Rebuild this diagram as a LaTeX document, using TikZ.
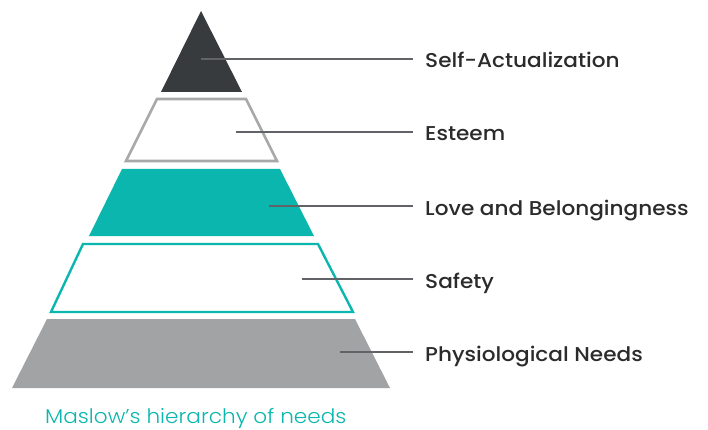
\documentclass[tikz,border=0pt]{standalone}
\usepackage{fontspec}
\newfontfamily\lblfont{Poppins Medium}[FakeStretch=1.08]
\newfontfamily\capfont{Poppins Light}[FakeStretch=1.08]
\definecolor{darkgrey}{HTML}{383B3E}
\definecolor{outgrey}{HTML}{A7A8AA}
\definecolor{fillgrey}{HTML}{A2A3A5}
\definecolor{teal}{HTML}{0AB6AD}
\definecolor{leadgrey}{HTML}{626366}
\definecolor{txt}{HTML}{2B2B2B}
\begin{document}
\begin{tikzpicture}[x=1pt,y=-1pt,
  lbl/.style={anchor=base west,inner sep=0pt,font=\lblfont\fontsize{20}{22}\selectfont,text=txt},
  lead/.style={draw=leadgrey,line width=1.1pt}]
\useasboundingbox (0,0) rectangle (708,430);
% layers
\fill[darkgrey] (201,11) -- (242,92) -- (161,92) -- cycle;
\draw[outgrey,line width=2.6pt] (157,99) -- (246,99) -- (277,161) -- (126,161) -- cycle;
\fill[teal] (122,169) -- (280,169) -- (314,236) -- (89,236) -- cycle;
\draw[teal,line width=2.4pt] (83,244) -- (318,244) -- (353,312) -- (51,312) -- cycle;
\fill[fillgrey] (47,319) -- (355,319) -- (390,388) -- (12,388) -- cycle;
% leader start/end points
\coordinate (s1) at (201,59);  \coordinate (e1) at (413,59);
\coordinate (s2) at (236,132); \coordinate (e2) at (413,132);
\coordinate (s3) at (269,206); \coordinate (e3) at (413,206);
\coordinate (s4) at (302,279); \coordinate (e4) at (413,279);
\coordinate (s5) at (340,352); \coordinate (e5) at (413,352);
\draw[lead] (s1) -- (e1);
\draw[lead] (s2) -- (e2);
\draw[lead] (s3) -- (e3);
\draw[lead] (s4) -- (e4);
\draw[lead] (s5) -- (e5);
\node[lbl] (l1) at (425,68) {Self-Actualization};
\node[lbl] (l2) at (425,141) {Esteem};
\node[lbl] (l3) at (425,215) {Love and Belongingness};
\node[lbl] (l4) at (425,288) {Safety};
\node[lbl] (l5) at (425,361) {Physiological Needs};
\node[anchor=base west,inner sep=0pt,font=\capfont\fontsize{20}{22}\selectfont,text=teal] (cap) at (45,423) {Maslow’s hierarchy of needs};
\end{tikzpicture}
\end{document}
